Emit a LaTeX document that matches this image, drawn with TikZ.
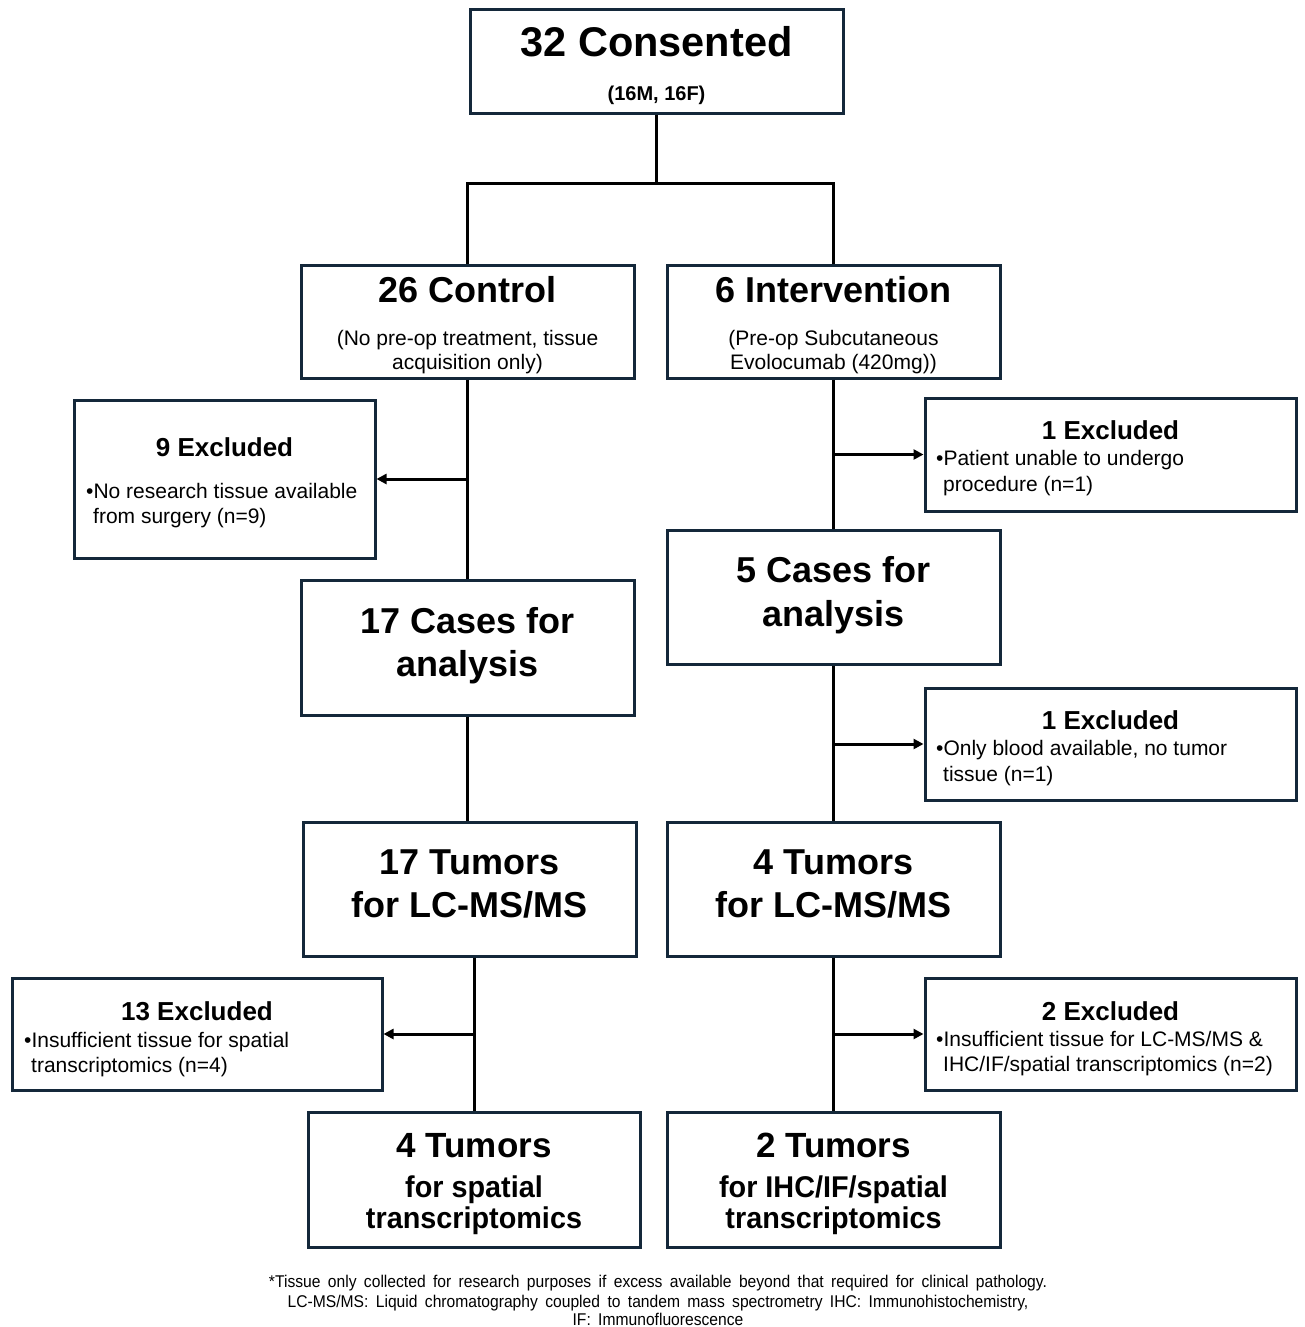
\documentclass[tikz,border=0pt]{standalone}
\usepackage{fontspec}
\setmainfont{Liberation Sans}
\newfontfamily\narrowfont[FakeStretch=0.96]{Liberation Sans}
\newfontfamily\footfont[FakeStretch=0.92,WordSpace=1.7]{Liberation Sans}
\usetikzlibrary{arrows.meta}
\definecolor{navy}{HTML}{14283A}
\begin{document}
\begin{tikzpicture}[x=1pt,y=-1pt,
  box/.style={draw=navy, line width=3pt, fill=white, inner sep=0pt},
  conn/.style={draw=black, line width=3pt},
  arr/.style={conn, -{Triangle[length=10pt,width=10pt]}},
  txt/.style={inner sep=0pt, anchor=base},
  ltxt/.style={inner sep=0pt, anchor=base west},
  bigf/.style={font=\bfseries\fontsize{41.5}{48}\selectfont},
  ttl/.style={font=\bfseries\fontsize{36}{43}\selectfont},
  sml/.style={font=\bfseries\fontsize{20}{24}\selectfont},
  sub/.style={font=\fontsize{21}{25}\selectfont},
  exh/.style={font=\bfseries\fontsize{26}{31}\selectfont},
  narrowb/.style={font=\narrowfont\bfseries\fontsize{30}{34}\selectfont},
  foot/.style={font=\footfont\fontsize{17}{20}\selectfont}
]
\useasboundingbox (0,0) rectangle (1304,1327);
\clip (0,0) rectangle (1304,1327);
\fill[white] (0,0) rectangle (1304,1327);

% boxes
\node[box, minimum width=373pt, minimum height=104pt] (top) at (656.5,62) {};
\node[box, minimum width=333pt, minimum height=113pt] (control) at (467.5,321.5) {};
\node[box, minimum width=333pt, minimum height=113pt] (interv) at (833.5,321.5) {};
\node[box, minimum width=301pt, minimum height=158pt] (ex9) at (224.5,479) {};
\node[box, minimum width=371pt, minimum height=113pt] (ex1a) at (1110.5,454.5) {};
\node[box, minimum width=333pt, minimum height=135pt] (cases17) at (467.5,647.5) {};
\node[box, minimum width=333pt, minimum height=134pt] (cases5) at (833.5,597) {};
\node[box, minimum width=371pt, minimum height=112pt] (ex1b) at (1110.5,744) {};
\node[box, minimum width=333pt, minimum height=134pt] (tum17) at (469.5,889) {};
\node[box, minimum width=333pt, minimum height=134pt] (tum4) at (833.5,889) {};
\node[box, minimum width=370pt, minimum height=112pt] (ex13) at (197,1034) {};
\node[box, minimum width=371pt, minimum height=112pt] (ex2) at (1110.5,1034) {};
\node[box, minimum width=332pt, minimum height=135pt] (sp4) at (474,1179.5) {};
\node[box, minimum width=333pt, minimum height=135pt] (sp2) at (833.5,1179.5) {};

% connectors
\coordinate (jn) at (656.5,183);
\draw[conn] (top.south) -- (jn);
\draw[conn] (control.north) |- (jn) -| (interv.north);
\draw[conn] (control.south) -- (cases17.north);
\draw[arr] (ex9.east -| control.south) -- (ex9.east);
\draw[conn] (interv.south) -- (cases5.north);
\draw[arr] (ex1a.west -| interv.south) -- (ex1a.west);
\draw[conn] (cases17.south) -- (cases17.south |- tum17.north);
\draw[conn] (cases5.south) -- (tum4.north);
\draw[arr] (ex1b.west -| cases5.south) -- (ex1b.west);
\draw[conn] (sp4.north |- tum17.south) -- (sp4.north);
\draw[arr] (ex13.east -| sp4.north) -- (ex13.east);
\draw[conn] (tum4.south) -- (sp2.north);
\draw[arr] (ex2.west -| tum4.south) -- (ex2.west);

% texts
\node[txt, bigf] (t1) at (656.5,57) {32 Consented};
\node[txt, sml] (t2) at (656.5,101) {(16M, 16F)};

\node[txt, ttl] (c1) at (467.5,302) {26 Control};
\node[txt, sub] (c2) at (467.5,345) {(No pre-op treatment, tissue};
\node[txt, sub] (c3) at (467.5,369) {acquisition only)};

\node[txt, ttl] (i1) at (833.5,302) {6 Intervention};
\node[txt, sub] (i2) at (833.5,345) {(Pre-op Subcutaneous};
\node[txt, sub] (i3) at (833.5,369) {Evolocumab (420mg))};

\node[txt, exh] (e9a) at (224.5,456) {9 Excluded};
\node[ltxt, sub] (e9b) at (86,498) {•No research tissue available};
\node[ltxt, sub] (e9c) at (93,523) {from surgery (n=9)};

\node[txt, exh] (e1a) at (1110.5,439) {1 Excluded};
\node[ltxt, sub] (e1b) at (936,465) {•Patient unable to undergo};
\node[ltxt, sub] (e1c) at (943,491) {procedure (n=1)};

\node[txt, ttl] (k1) at (467.5,633) {17 Cases for};
\node[txt, ttl] (k2) at (467.5,676) {analysis};

\node[txt, ttl] (f1) at (833.5,582) {5 Cases for};
\node[txt, ttl] (f2) at (833.5,626) {analysis};

\node[txt, exh] (g1) at (1110.5,729) {1 Excluded};
\node[ltxt, sub] (g2) at (936,755) {•Only blood available, no tumor};
\node[ltxt, sub] (g3) at (943,781) {tissue (n=1)};

\node[txt, ttl] (m1) at (469.5,874) {17 Tumors};
\node[txt, ttl] (m2) at (469.5,917) {for LC-MS/MS};

\node[txt, ttl] (n1) at (833.5,874) {4 Tumors};
\node[txt, ttl] (n2) at (833.5,917) {for LC-MS/MS};

\node[txt, exh] (p1) at (197,1020) {13 Excluded};
\node[ltxt, sub] (p2) at (24,1047) {•Insufficient tissue for spatial};
\node[ltxt, sub] (p3) at (31,1072) {transcriptomics (n=4)};

\node[txt, exh] (q1) at (1110.5,1020) {2 Excluded};
\node[ltxt, sub] (q2) at (936,1046) {•Insufficient tissue for LC-MS/MS \&};
\node[ltxt, sub] (q3) at (943,1071) {IHC/IF/spatial transcriptomics (n=2)};

\node[txt, font=\bfseries\fontsize{35}{40}\selectfont] (r1) at (474,1157) {4 Tumors};
\node[txt, narrowb] (r2) at (474,1197) {for spatial};
\node[txt, narrowb] (r3) at (474,1228) {transcriptomics};

\node[txt, font=\bfseries\fontsize{35}{40}\selectfont] (s1) at (833.5,1157) {2 Tumors};
\node[txt, narrowb] (s2) at (833.5,1197) {for IHC/IF/spatial};
\node[txt, narrowb] (s3) at (833.5,1228) {transcriptomics};

\node[txt, foot] (fn1) at (658,1287) {*Tissue only collected for research purposes if excess available beyond that required for clinical pathology.};
\node[txt, foot] (fn2) at (658,1307) {LC-MS/MS: Liquid chromatography coupled to tandem mass spectrometry IHC: Immunohistochemistry,};
\node[txt, foot] (fn3) at (658,1325) {IF: Immunofluorescence};
\end{tikzpicture}
\end{document}
